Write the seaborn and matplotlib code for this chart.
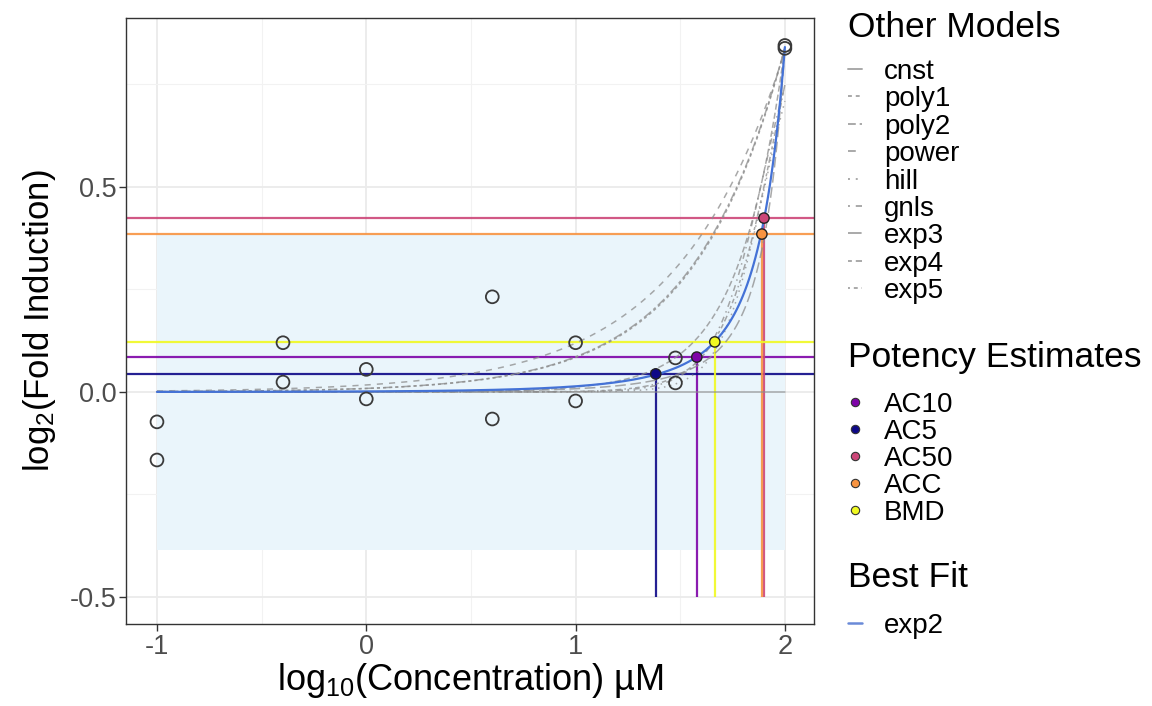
import numpy as np
import pandas as pd
import matplotlib
matplotlib.use("Agg")
import matplotlib.pyplot as plt
import seaborn as sns
from matplotlib.lines import Line2D

# ---------------- data ----------------
obs_logc = [-1.0, -1.0, -0.398, -0.398, 0.0, 0.0, 0.602, 0.602, 1.0, 1.0, 1.477, 1.477, 2.0, 2.0]
obs_resp = [-0.073, -0.166, 0.024, 0.120, 0.055, -0.017, 0.232, -0.066, 0.120, -0.022, 0.083, 0.022, 0.845, 0.838]

potency_names = ["AC10", "AC5", "AC50", "ACC", "BMD"]
potency_logc = [1.579, 1.383, 1.900, 1.890, 1.665]
potency_resp = [0.085, 0.044, 0.424, 0.385, 0.122]
potency_colors = ["#7E03A8", "#0D0887", "#CC4678", "#F89441", "#F0F921"]

cutoff = 0.385

other_models = ["cnst", "poly1", "poly2", "power", "hill", "gnls", "exp3", "exp4", "exp5"]
# fitted parameters (estimated from the drawn curves)
poly1_a = 0.0084
poly2_a, poly2_b = 0.0020, 5.0
power_a, power_p = 0.017, 0.845
hill_tp, hill_ga, hill_p = 1.0, 80.0, 4.0
gnls_tp, gnls_ga, gnls_p, gnls_la, gnls_q = 1.3, 85.0, 3.5, 300.0, 2.0
exp3_a, exp3_b, exp3_p = 0.05, 44.3, 1.3
exp4_tp, exp4_ga = 20.0, 1615.0
exp5_tp, exp5_ga, exp5_p = 1.0, 79.4, 3.0
exp2_a, exp2_b = 0.0367, 31.5

best_model = "exp2"

# ---------------- model curves ----------------
def model_value(name, c):
    if name == "cnst":
        return np.zeros_like(c)
    if name == "poly1":
        return poly1_a * c
    if name == "poly2":
        return poly2_a * (c / poly2_b + (c / poly2_b) ** 2)
    if name == "power":
        return power_a * c ** power_p
    if name == "hill":
        return hill_tp / (1 + (hill_ga / c) ** hill_p)
    if name == "gnls":
        return gnls_tp / ((1 + (gnls_ga / c) ** gnls_p) * (1 + (c / gnls_la) ** gnls_q))
    if name == "exp3":
        return exp3_a * (np.exp((c / exp3_b) ** exp3_p) - 1)
    if name == "exp4":
        return exp4_tp * (1 - 2 ** (-c / exp4_ga))
    if name == "exp5":
        return exp5_tp * (1 - 2 ** (-(c / exp5_ga) ** exp5_p))
    if name == "exp2":
        return exp2_a * (np.exp(c / exp2_b) - 1)

grid_logc = np.linspace(-1, 2, 300)
grid_c = 10 ** grid_logc
curves = pd.concat(
    [pd.DataFrame({"logc": grid_logc, "resp": model_value(m, grid_c), "model": m}) for m in other_models],
    ignore_index=True)
best = pd.DataFrame({"logc": grid_logc, "resp": model_value(best_model, grid_c), "model": best_model})

dash_map = {"cnst": "", "poly1": (2, 2), "poly2": (4, 2), "power": (4, 4), "hill": (1, 3),
            "gnls": (1, 3, 4, 3), "exp3": (7, 3), "exp4": (2, 2, 6, 2), "exp5": (1, 2, 2, 2, 3, 2, 4, 2)}
mpl_ls = {k: ("-" if v == "" else (0, v)) for k, v in dash_map.items()}

# ---------------- figure ----------------
sns.set_theme(style="white")
plt.rcParams["font.family"] = ["Liberation Sans", "DejaVu Sans"]
plt.rcParams["mathtext.default"] = "regular"
plt.rcParams["text.color"] = "black"
plt.rcParams["axes.labelcolor"] = "black"

W, H = 1152, 706
fig = plt.figure(figsize=(W / 100, H / 100), dpi=100)
ax = fig.add_axes([126 / W, 1 - 624 / H, (814 - 126) / W, (624 - 18) / H])

ax.set_xlim(-1.148, 2.139)
ax.set_ylim(-0.566, 0.912)

# grid
ax.set_xticks([-1, 0, 1, 2])
ax.set_yticks([-0.5, 0.0, 0.5])
ax.set_xticks([-0.5, 0.5, 1.5], minor=True)
ax.set_yticks([-0.25, 0.25, 0.75], minor=True)
ax.grid(which="major", color="#EBEBEB", lw=1.3, zorder=0)
ax.grid(which="minor", color="#F2F2F2", lw=0.8, zorder=0)
ax.set_axisbelow(True)

# cutoff band
ax.fill_between([-1, 2], [-cutoff, -cutoff], [cutoff, cutoff], color="#EAF5FB", lw=0, zorder=1)

# potency lines
for nm, lx, ly, col in zip(potency_names, potency_logc, potency_resp, potency_colors):
    ax.axhline(ly, color=col, lw=1.6, alpha=0.9, zorder=2)
    ax.vlines(lx, -0.5, ly, color=col, lw=1.6, alpha=0.9, zorder=2)

# other models
sns.lineplot(data=curves, x="logc", y="resp", hue="model", style="model",
             palette={m: "#8C8C8C" for m in other_models}, dashes=dash_map,
             estimator=None, sort=False, lw=1.1, alpha=0.75, legend=False, ax=ax, zorder=3)
# best fit
sns.lineplot(data=best, x="logc", y="resp", color="#4472D6", lw=1.6, estimator=None,
             sort=False, legend=False, ax=ax, zorder=4)

# observations
sns.scatterplot(x=obs_logc, y=obs_resp, s=85, facecolor="none", edgecolor="#3A3A3A",
                linewidth=1.3, ax=ax, zorder=5, legend=False)

# potency points
sns.scatterplot(x=potency_logc, y=potency_resp, hue=potency_names,
                palette=dict(zip(potency_names, potency_colors)), s=55,
                edgecolor="#222222", linewidth=1.0, ax=ax, zorder=6, legend=False)

# axes styling
for sp in ax.spines.values():
    sp.set_color("#333333")
    sp.set_linewidth(1.0)
ax.tick_params(which="major", direction="out", length=5, width=1, color="#333333",
               labelsize=19.5, labelcolor="#4D4D4D", pad=2, bottom=True, left=True)
ax.tick_params(which="minor", length=0)
ax.set_xticklabels(["-1", "0", "1", "2"])
ax.set_yticklabels(["-0.5", "0.0", "0.5"])
ax.set_xlabel("$log_{10}$(Concentration) µM", fontsize=26, color="black")
ax.set_ylabel("$log_{2}$(Fold Induction)", fontsize=25, color="black")
ax.xaxis.set_label_coords(0.5, (624 - 681) / (624 - 18))
ax.yaxis.set_label_coords((40 - 126) / (814 - 126), 0.5)
ax.xaxis.label.set_va("center")
ax.yaxis.label.set_va("center")

# ---------------- legends (drawn in figure pixel space) ----------------
def fx(x):
    return x / W

def fy(y):
    return 1 - y / H

title_fs = 25.5
item_fs = 20
key_x0, key_x1, text_x = 848, 862, 884

fig.text(fx(848), fy(37), "Other Models", fontsize=title_fs, va="baseline", ha="left")
for i, m in enumerate(other_models):
    yk = 69 + 27.4 * i
    fig.add_artist(Line2D([fx(key_x0), fx(key_x1)], [fy(yk), fy(yk)], color="#A0A0A0",
                          lw=1.4, linestyle=mpl_ls[m], alpha=0.9))
    fig.text(fx(text_x), fy(yk + 10), m, fontsize=item_fs, va="baseline", ha="left")

fig.text(fx(848), fy(367), "Potency Estimates", fontsize=title_fs, va="baseline", ha="left")
for i, (nm, col) in enumerate(zip(potency_names, potency_colors)):
    yk = 402 + 27.0 * i
    fig.add_artist(Line2D([fx(855)], [fy(yk)], marker="o", markersize=6.0, markerfacecolor=col,
                          markeredgecolor="#333333", markeredgewidth=0.8, linestyle="none"))
    fig.text(fx(text_x), fy(yk + 10), nm, fontsize=item_fs, va="baseline", ha="left")

fig.text(fx(848), fy(587), "Best Fit", fontsize=title_fs, va="baseline", ha="left")
fig.add_artist(Line2D([fx(key_x0), fx(key_x1)], [fy(623), fy(623)], color="#6A8AD8", lw=1.8))
fig.text(fx(text_x), fy(633), best_model, fontsize=item_fs, va="baseline", ha="left")

fig.savefig("out.png", dpi=100)
